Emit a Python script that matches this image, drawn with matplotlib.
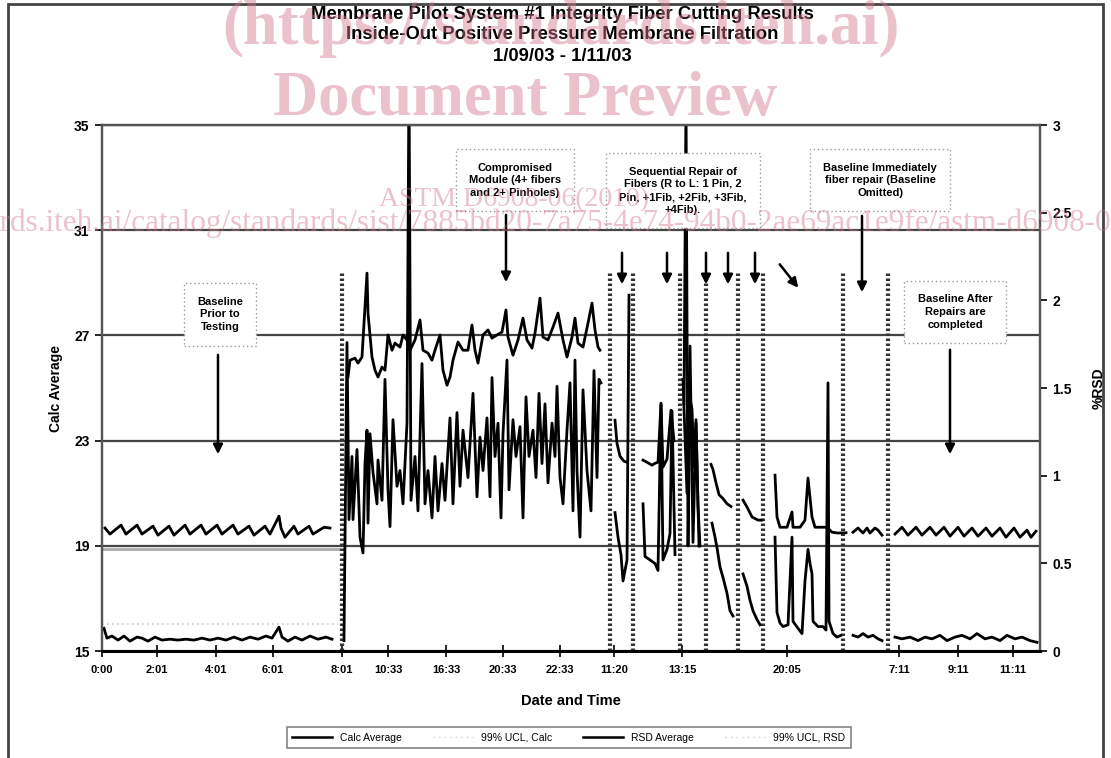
import matplotlib
matplotlib.use("Agg")
import matplotlib.pyplot as plt
from matplotlib.lines import Line2D
from matplotlib.patches import Rectangle

nan = float("nan")

# sample positions along the run (0 = 1/09/03 0:00), nan breaks the line between runs
calc_pos = [3, 8, 19, 24, 35, 40, 51, 56, 67, 72, 83, 88, 99, 104, 115, 120, 131, 136, 147, 152,
            163, 168, 177, 179, 183, 192, 196, 207, 211, 222, 228, 234,
            246, 248, 253, 256, 260, 265, 266, 270, 273, 276, 280, 283, 286, 290, 293, 298, 301, 305,
            308, 313, 318, 321, 326, 330, 333, 338, 341, 345, 348, 351, 356, 361, 366, 370, 373, 376,
            381, 386, 390, 395, 400, 404, 406, 411, 416, 421, 425, 430, 433, 438, 441, 446, 451, 456,
            461, 465, 470, 473, 476, 481, 486, 490, 493, 496, 498, 502,
            513, 515, 518, 522, 525, 527,
            541, 545, 550, 553, 556, 559, 561, 565, 569, 572, 575,
            582, 584, 586, 588, 590, 592, 594, 596, 598, 601,
            609, 611, 614, 617, 621, 625, 629, 633,
            641, 645, 650, 656, 660, 663,
            673, 675, 678, 685, 690, 691, 698, 703, 706, 710, 713, 720, 725, 730, 736, 744, 747,
            751, 756, 761, 765, 768, 773, 776, 780, 784,
            793, 800, 806, 814, 820, 828, 834, 842, 848, 856, 862, 870, 876, 884, 890, 898, 904, 912,
            918, 925, 929, 934]
calc_avg = [19.68, 19.45, 19.79, 19.45, 19.79, 19.45, 19.75, 19.41, 19.75, 19.41, 19.79, 19.45,
            19.79, 19.45, 19.79, 19.45, 19.79, 19.45, 19.75, 19.41, 19.75, 19.45, 20.13, 19.68,
            19.33, 19.75, 19.45, 19.75, 19.45, 19.71, 19.68, nan,
            25.42, 26.06, 26.14, 25.95, 26.18, 29.37, 27.85, 26.18, 25.68, 25.42, 25.80, 25.68,
            27.02, 26.44, 26.71, 26.56, 27.02, 26.83, 26.44, 26.83, 27.59, 26.44, 26.33, 26.06,
            26.44, 27.02, 25.68, 25.11, 25.42, 26.06, 26.75, 26.44, 26.44, 27.40, 26.44, 25.95,
            27.02, 27.21, 26.90, 27.02, 27.13, 27.97, 26.94, 26.25, 26.83, 27.66, 26.83, 26.52,
            27.09, 28.42, 26.94, 26.83, 27.32, 27.85, 26.83, 26.18, 26.94, 27.66, 26.71, 26.56,
            27.47, 28.23, 27.21, 26.56, 26.44, nan,
            23.78, 22.90, 22.41, 22.22, 22.18, nan,
            22.26, 22.18, 22.07, 22.14, 22.18, 24.43, 22.00, 22.30, 24.16, 23.00, nan,
            24.40, 36.00, 19.00, 24.60, 24.20, 22.00, 23.80, 20.50, 19.00, nan,
            22.10, 21.90, 21.40, 20.95, 20.80, 20.60, 20.50, nan,
            20.74, 20.48, 20.10, 19.98, 19.98, nan,
            21.69, 20.10, 19.71, 19.71, 20.29, 19.71, 19.71, 19.98, 21.58, 20.10, 19.71, 19.71,
            19.71, 19.52, 19.49, 19.50, nan,
            19.52, 19.68, 19.49, 19.68, 19.49, 19.68, 19.60, 19.41, nan,
            19.45, 19.71, 19.41, 19.71, 19.41, 19.71, 19.41, 19.71, 19.37, 19.71, 19.37, 19.68,
            19.37, 19.68, 19.37, 19.68, 19.33, 19.68, 19.33, 19.60, 19.33, 19.56]

rsd_pos = [2, 5, 10, 16, 22, 28, 35, 40, 46, 53, 60, 68, 76, 84, 92, 100, 108, 116, 124, 132,
           140, 148, 156, 164, 170, 177, 180, 186, 193, 200, 208, 216, 224, 230, 236,
           242, 245, 247, 250, 251, 255, 258, 261, 263, 265, 266, 268, 271, 275, 276, 280, 283,
           286, 288, 291, 295, 298, 301, 305, 307, 309, 313, 316, 320, 323, 326, 330, 333, 336,
           340, 343, 348, 351, 355, 358, 361, 366, 371, 375, 378, 381, 385, 388, 390, 393, 396,
           399, 401, 405, 407, 411, 414, 418, 421, 424, 427, 431, 434, 437, 440, 443, 446, 450,
           453, 455, 458, 461, 465, 468, 471, 473, 475, 478, 481, 485, 489, 492, 495, 497, 499, 503,
           513, 516, 519, 521, 523, 525, 527, 528,
           541, 543, 548, 553, 556, 559, 561, 565, 568, 570, 573, 575,
           581, 585, 588, 591, 594, 597, 600,
           610, 613, 615, 618, 621, 625, 628, 631, 634,
           641, 645, 648, 651, 655, 658, 662,
           673, 675, 678, 681, 686, 690, 691, 696, 700, 703, 706, 708, 710, 711, 716, 721, 724,
           726, 727, 731, 735, 739, 743,
           751, 756, 761, 766, 771, 776, 780, 784,
           793, 800, 808, 816, 823, 830, 838, 845, 853, 860, 868, 875, 883, 890, 898, 905, 913,
           920, 928, 935]
rsd_avg = [0.13, 0.074, 0.086, 0.063, 0.086, 0.057, 0.08, 0.074, 0.057, 0.08, 0.063, 0.068,
           0.063, 0.068, 0.063, 0.074, 0.063, 0.074, 0.063, 0.08, 0.063, 0.08, 0.068, 0.086,
           0.074, 0.137, 0.08, 0.057, 0.08, 0.063, 0.086, 0.068, 0.08, 0.068, nan,
           0.06, 1.76, 0.75, 1.11, 0.75, 1.15, 0.65, 0.56, 1.07, 1.26, 0.73, 1.24, 1.02, 0.84,
           1.09, 0.86, 1.55, 0.92, 0.71, 1.32, 0.94, 1.03, 0.84, 1.30, 3.30, 0.86, 1.11, 0.80,
           1.64, 0.84, 1.03, 0.76, 1.11, 0.80, 1.07, 0.86, 1.33, 0.84, 1.36, 0.94, 1.26, 0.99,
           1.47, 0.88, 1.22, 1.03, 1.33, 0.88, 1.56, 1.11, 1.30, 0.76, 1.24, 1.66, 0.92, 1.32,
           1.11, 1.28, 0.76, 1.45, 1.11, 1.26, 0.99, 1.47, 1.07, 1.41, 0.96, 1.30, 1.11, 1.51,
           0.99, 0.84, 1.26, 1.53, 0.80, 1.66, 1.03, 0.65, 1.49, 1.03, 0.80, 1.60, 0.99, 1.55,
           1.53, nan,
           0.79, 0.65, 0.55, 0.40, 0.46, 0.52, 2.03, nan,
           0.84, 0.54, 0.52, 0.50, 0.46, 1.41, 0.52, 0.58, 0.67, 1.37, 0.55, nan,
           1.55, 0.90, 1.74, 0.62, 1.30, 0.60, nan,
           0.73, 0.65, 0.59, 0.48, 0.42, 0.33, 0.23, 0.20, nan,
           0.44, 0.37, 0.29, 0.23, 0.18, 0.15, nan,
           0.65, 0.22, 0.16, 0.14, 0.15, 0.65, 0.17, 0.13, 0.10, 0.40, 0.58, 0.50, 0.44, 0.17,
           0.14, 0.14, 0.12, 1.53, 0.17, 0.10, 0.08, 0.09, nan,
           0.09, 0.08, 0.10, 0.08, 0.09, 0.07, 0.06, nan,
           0.08, 0.07, 0.08, 0.06, 0.08, 0.07, 0.09, 0.06, 0.08, 0.09, 0.07, 0.10, 0.07, 0.08,
           0.06, 0.09, 0.07, 0.08, 0.06, 0.05]

ucl_pos = [0, 236]
ucl_calc = [18.9, 18.9]
ucl_rsd = [0.155, 0.155]

# start of each test condition (dotted markers)
event_pos = [240, 508, 531, 578, 604, 636, 661, 741, 786]

tick_pos = [0, 55, 114, 171, 240, 286, 344, 401, 458, 512, 580, 685, 797, 856, 911]
tick_labels = ["0:00", "2:01", "4:01", "6:01", "8:01", "10:33", "16:33", "20:33", "22:33",
               "11:20", "13:15", "20:05", "7:11", "9:11", "11:11"]

plt.rcParams["font.family"] = ["Liberation Sans", "DejaVu Sans"]

fig = plt.figure(figsize=(11.11, 7.58), dpi=100)
ax = fig.add_axes([0.0918, 0.141, 0.8443, 0.694])
ax2 = ax.twinx()

ax.set_xlim(0, 938)
ax.set_ylim(15, 35)
ax2.set_ylim(0, 3)
ax.set_yticks([15, 19, 23, 27, 31, 35])
ax2.set_yticks([0, 0.5, 1, 1.5, 2, 2.5, 3])
ax2.set_yticklabels(["0", "0.5", "1", "1.5", "2", "2.5", "3"])
ax.set_xticks(tick_pos)
ax.set_xticklabels(tick_labels)

ax.set_axisbelow(True)
ax.yaxis.grid(True, color="#444444", lw=1.6)

for x in event_pos:
    ax.axvline(x, ymin=0, ymax=0.72, color="#333333", lw=3, ls=(0, (0.6, 0.6)), zorder=2)

ax.plot(ucl_pos, ucl_calc, color="#b0b0b0", lw=2.2, zorder=1)
ax2.plot(ucl_pos, ucl_rsd, color="#c8c8c8", lw=1.2, ls=(0, (1, 2)))
ax.plot(calc_pos, calc_avg, color="black", lw=2, zorder=3)
ax2.plot(rsd_pos, rsd_avg, color="black", lw=2)

for sp in ("left", "right", "top"):
    ax.spines[sp].set_color("#555555")
    ax2.spines[sp].set_color("#555555")
    ax.spines[sp].set_linewidth(1.6)
    ax2.spines[sp].set_linewidth(1.6)
ax.spines["bottom"].set_linewidth(2)
ax2.spines["bottom"].set_linewidth(2)

ax.tick_params(axis="y", direction="out", length=5, width=1.2, labelsize=10, pad=4)
ax2.tick_params(axis="y", direction="out", length=5, width=1.2, labelsize=10, pad=4)
ax.tick_params(axis="x", direction="inout", length=8, width=1.2, labelsize=8, pad=6)
for lab in ax.get_yticklabels() + ax2.get_yticklabels() + ax.get_xticklabels():
    lab.set_fontweight("bold")

ax.set_ylabel("Calc Average", fontsize=10, fontweight="bold", labelpad=8)
ax2.set_ylabel("%RSD", fontsize=10, fontweight="bold", labelpad=14)
ax.set_xlabel("Date and Time", fontsize=10.5, fontweight="bold", labelpad=14)

# notes and arrows (calc axis coordinates)
box = dict(boxstyle="square,pad=1.2", fc="white", ec="#9a9a9a", lw=1, ls=(0, (1, 2)))
notes = [
    (118, 27.8, "Baseline\nPrior to\nTesting"),
    (413, 32.9, "Compromised\nModule (4+ fibers\nand 2+ Pinholes)"),
    (581, 32.5, "Sequential Repair of\nFibers (R to L: 1 Pin, 2\nPin, +1Fib, +2Fib, +3Fib,\n+4Fib)."),
    (778, 32.9, "Baseline Immediately\nfiber repair (Baseline\nOmitted)"),
    (853, 27.9, "Baseline After\nRepairs are\ncompleted"),
]
for x, y, s in notes:
    ax2.text(x, y, s, transform=ax.transData, ha="center", va="center", fontsize=8,
             fontweight="bold", linespacing=1.35, bbox=box, zorder=5)

arrows = [
    ((116, 26.37), (116, 22.38)),
    ((404, 31.69), (404, 28.92)),
    ((520, 30.25), (520, 28.84)),
    ((565, 30.25), (565, 28.84)),
    ((604, 30.25), (604, 28.84)),
    ((626, 30.25), (626, 28.84)),
    ((653, 30.25), (653, 28.84)),
    ((676, 29.79), (698, 28.73)),
    ((760, 31.65), (760, 28.54)),
    ((848, 26.56), (848, 22.38)),
]
for start, end in arrows:
    ax2.annotate("", xy=end, xytext=start, xycoords=ax.transData, textcoords=ax.transData,
                 arrowprops=dict(arrowstyle="-|>", color="black", lw=1.8, mutation_scale=14),
                 zorder=6)

handles = [Line2D([], [], color="black", lw=1.8),
           Line2D([], [], color="#d0d0d0", lw=1, ls=(0, (1, 3))),
           Line2D([], [], color="black", lw=1.8),
           Line2D([], [], color="#d0d0d0", lw=1, ls=(0, (1, 3)))]
leg = fig.legend(handles, ["Calc Average", "99% UCL, Calc", "RSD Average", "99% UCL, RSD"],
                 loc="center", bbox_to_anchor=(0.512, 0.027), ncol=4, fontsize=7.5,
                 handlelength=3.8, columnspacing=3.0, fancybox=False, edgecolor="#666666",
                 borderpad=0.5)
leg.get_frame().set_linewidth(1.2)

fig.text(0.506, 0.981, "Membrane Pilot System #1 Integrity Fiber Cutting Results",
         ha="center", va="center", fontsize=13.3, fontweight="bold")
fig.text(0.506, 0.954, "Inside-Out Positive Pressure Membrane Filtration",
         ha="center", va="center", fontsize=13.3, fontweight="bold")
fig.text(0.506, 0.926, "1/09/03 - 1/11/03", ha="center", va="center", fontsize=13.3,
         fontweight="bold")

fig.patches.append(Rectangle((0.007, -0.01), 0.986, 1.005, transform=fig.transFigure,
                             fill=False, ec="#444444", lw=2))

# watermark of the source document
wm = dict(color="#d4788c", alpha=0.45, family=["Liberation Serif", "DejaVu Serif"], zorder=10)
fig.text(0.505, 0.962, "(https://standards.iteh.ai)", ha="center", va="center",
         fontsize=45, fontweight="bold", **wm)
fig.text(0.473, 0.868, "Document Preview", ha="center", va="center", fontsize=45,
         fontweight="bold", **wm)
fig.text(0.463, 0.737, "ASTM D6908-06(2010)", ha="center", va="center", fontsize=20,
         **wm)
fig.text(-0.15, 0.706,
         "https://standards.iteh.ai/catalog/standards/sist/7885bd20-7a75-4e74-94b0-2ae69ac1e9fe/astm-d6908-062010",
         ha="left", va="center", fontsize=22.5, **wm)

fig.savefig("out.png", dpi=100)
